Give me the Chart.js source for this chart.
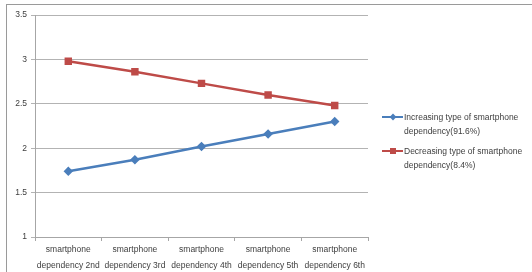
<!DOCTYPE html>
<html>
<head>
<meta charset="utf-8">
<script src="https://cdn.jsdelivr.net/npm/chart.js@4"></script>
<style>
  body { margin: 0; background: #fff; }
  #wrap { position: relative; width: 532px; height: 272px; overflow: hidden; }
  #frame { position: absolute; left: 6px; top: 4px; width: 600px; height: 300px;
    border-left: 1px solid #9a9a9a; border-top: 1px solid #9a9a9a; }
  #chart { position: absolute; left: 0; top: 0; }
  .legend { position: absolute; left: 382px; font: 8.5px "Liberation Sans", Arial, sans-serif;
    color: #404040; line-height: 14px; }
  .legend .item { position: relative; padding-left: 22px; margin-bottom: 6px; width: 126px; }
  .legend .sw { position: absolute; left: 0; top: 6px; width: 21px; height: 2px; }
  .legend .mk { position: absolute; left: 8px; top: 4px; width: 6px; height: 6px; }
</style>
</head>
<body>
<div id="wrap">
  <div id="frame"></div>
  <canvas id="chart" width="532" height="272"></canvas>
  <div class="legend" style="top:110px">
    <div class="item"><span class="sw" style="background:#4a7ebb"></span><span class="mk" style="background:#4a7ebb;transform:rotate(45deg) scale(0.8)"></span>Increasing type of smartphone dependency(91.6%)</div>
    <div class="item"><span class="sw" style="background:#be4b48"></span><span class="mk" style="background:#be4b48"></span>Decreasing type of smartphone dependency(8.4%)</div>
  </div>
</div>
<script>
const categories = [
  ['smartphone', 'dependency 2nd'],
  ['smartphone', 'dependency 3rd'],
  ['smartphone', 'dependency 4th'],
  ['smartphone', 'dependency 5th'],
  ['smartphone', 'dependency 6th'],
];
const increasing = [1.74, 1.87, 2.02, 2.16, 2.30];
const decreasing = [2.98, 2.86, 2.73, 2.60, 2.48];
const seriesNames = [
  'Increasing type of smartphone dependency(91.6%)',
  'Decreasing type of smartphone dependency(8.4%)',
];

const tickFont = { family: '"Liberation Sans", Arial, sans-serif', size: 8.5 };

new Chart(document.getElementById('chart'), {
  type: 'line',
  data: {
    labels: categories,
    datasets: [
      {
        label: seriesNames[0],
        data: increasing,
        borderColor: '#4a7ebb',
        backgroundColor: '#4a7ebb',
        borderWidth: 2.5,
        pointStyle: 'rectRot',
        pointRadius: 3,
        tension: 0,
      },
      {
        label: seriesNames[1],
        data: decreasing,
        borderColor: '#be4b48',
        backgroundColor: '#be4b48',
        borderWidth: 2.5,
        pointStyle: 'rect',
        pointRadius: 3.5,
        tension: 0,
      },
    ],
  },
  options: {
    responsive: false,
    animation: false,
    layout: { padding: { left: 0, right: 164, top: 15, bottom: 0 } },
    plugins: { legend: { display: false }, tooltip: { enabled: false } },
    scales: {
      x: {
        offset: true,
        grid: { offset: true, drawOnChartArea: false, drawTicks: true, tickLength: 4, color: '#a6a6a6' },
        border: { color: '#a6a6a6' },
        ticks: { font: { ...tickFont, lineHeight: 1.85 }, color: '#404040', maxRotation: 0, autoSkip: false, padding: 1 },
        afterFit: (s) => { s.height = 35; },
      },
      y: {
        min: 1,
        max: 3.5,
        grid: { color: '#b3b3b3', tickLength: 4 },
        border: { color: '#a6a6a6' },
        ticks: { stepSize: 0.5, font: tickFont, color: '#404040', padding: 4,
          callback: (v) => String(v) },
        afterFit: (s) => { s.width = 35; },
      },
    },
  },
});
</script>
</body>
</html>
